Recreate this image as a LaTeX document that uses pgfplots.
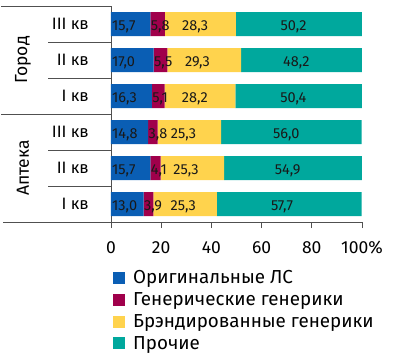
\documentclass[border=0pt]{standalone}
\usepackage{pgfplots}
\pgfplotsset{compat=1.18}
\usepackage{pgfplotstable}
\usepackage{fontspec}
\setmainfont{Fira Sans}
\definecolor{cBlue}{RGB}{10,94,180}
\definecolor{cRed}{RGB}{160,0,75}
\definecolor{cYel}{RGB}{255,211,77}
\definecolor{cTeal}{RGB}{0,168,157}
\definecolor{cLine}{RGB}{80,80,80}

% y: 0 = Apteka I, 1 = Apteka II, 2 = Apteka III, 3 = Gorod I, 4 = Gorod II, 5 = Gorod III
% boff: gap (pt) between the start of the yellow segment and its label
\pgfplotstableread{
y orig gen brand other boff
0 13.0 3.9 25.3 57.7 17
1 15.7 4.1 25.3 54.9 12.5
2 14.8 3.8 25.3 56.0 13
3 16.3 5.1 28.2 50.4 17
4 17.0 5.5 29.3 48.2 17.5
5 15.7 5.8 28.3 50.2 17
}\data

\pgfplotsset{
  frame/.style={scale only axis, width=251pt, height=216pt,
    at={(0,0)}, anchor=south west,
    xmin=0, xmax=100, ymin=-0.5, ymax=5.5, enlargelimits=false, clip=false},
  lbl/.style 2 args={scatter, only marks, mark=text, text mark={}, forget plot,
    point meta=\thisrow{#1},
    scatter/@pre marker code/.append code={%
      \node[anchor=west, inner sep=0pt, font=\fontsize{14.5}{15}\selectfont,
        text=black!90, yshift=-2.5pt, xshift=#2] at (0pt,0pt)
        {\pgfmathprintnumber[fixed,fixed zerofill,precision=1,use comma,assume math mode=true]{\pgfplotspointmeta}};}},
}

\begin{document}
\begin{tikzpicture}
\useasboundingbox (-111pt,-135pt) rectangle (289pt,222pt);
\begin{axis}[frame,
  xbar stacked, bar width=24pt,
  axis lines*=left,
  axis line style={cLine, line width=0.9pt},
  xtick={0,20,...,100}, xticklabels={0,20,40,60,80,100\%},
  tick align=outside, major tick length=6pt,
  xtick style={cLine, line width=0.9pt},
  ytick={0,...,5}, yticklabels={I кв, II кв, III кв, I кв, II кв, III кв},
  ytick style={draw=none},
  xticklabel style={font=\fontsize{17.5}{20}\selectfont},
  yticklabel style={font=\fontsize{16.5}{20}\selectfont},
  /pgf/number format/assume math mode=true,
  yticklabel style={anchor=east, inner sep=0pt, xshift=-16pt},
  xticklabel style={anchor=north, inner sep=0pt, yshift=-13pt},
  legend style={at={(0,0)}, anchor=north west, xshift=2pt, yshift=-47pt,
    draw=none, fill=none, inner sep=0pt, row sep=4.3pt,
    font=\fontsize{18.8}{20}\selectfont, nodes={inner sep=1.5pt},
    /tikz/every odd column/.append style={column sep=6.5pt}},
  legend cell align=left,
  legend image code/.code={\fill[#1] (0pt,-6pt) rectangle (12pt,6pt);},
]
\addplot[fill=cBlue, draw=none] table[x=orig, y=y] {\data};
\addlegendentry{Оригинальные ЛС}
\addplot[fill=cRed, draw=none] table[x=gen, y=y] {\data};
\addlegendentry{Генерические генерики}
\addplot[fill=cYel, draw=none] table[x=brand, y=y] {\data};
\addlegendentry{Брэндированные генерики}
\addplot[fill=cTeal, draw=none] table[x=other, y=y] {\data};
\addlegendentry{Прочие}

\draw[cLine, line width=0.9pt] (axis cs:0,5.5) -- ++(-110pt,0pt);
\draw[cLine, line width=0.9pt] (axis cs:0,4.5) -- ++(-63pt,0pt);
\draw[cLine, line width=0.9pt] (axis cs:0,3.5) -- ++(-63pt,0pt);
\draw[cLine, line width=0.9pt] (axis cs:0,2.5) -- ++(-110pt,0pt);
\draw[cLine, line width=0.9pt] (axis cs:0,1.5) -- ++(-63pt,0pt);
\draw[cLine, line width=0.9pt] (axis cs:0,0.5) -- ++(-63pt,0pt);
\draw[cLine, line width=0.9pt] (axis cs:0,-0.5) -- ++(-108pt,0pt);
\node[rotate=90, font=\fontsize{17.5}{20}\selectfont, inner sep=0pt] at ([xshift=-88pt]axis cs:0,4) {Город};
\node[rotate=90, font=\fontsize{17.5}{20}\selectfont, inner sep=0pt] at ([xshift=-88pt]axis cs:0,1) {Аптека};
\end{axis}

% value labels (positions taken from the same data)
\begin{axis}[frame, hide axis]
\addplot[lbl={orig}{1pt}] table[x expr=0, y=y] {\data};
\addplot[lbl={gen}{0.3pt}] table[x expr=\thisrow{orig}, y=y] {\data};
\addplot[lbl={brand}{0pt}] table[x expr=\thisrow{orig}+\thisrow{gen}+\thisrow{boff}/2.51, y=y] {\data};
\addplot[lbl={other}{-18.5pt}]
  table[x expr=\thisrow{orig}+\thisrow{gen}+\thisrow{brand}+0.5*\thisrow{other}, y=y] {\data};
\end{axis}
\end{tikzpicture}
\end{document}
